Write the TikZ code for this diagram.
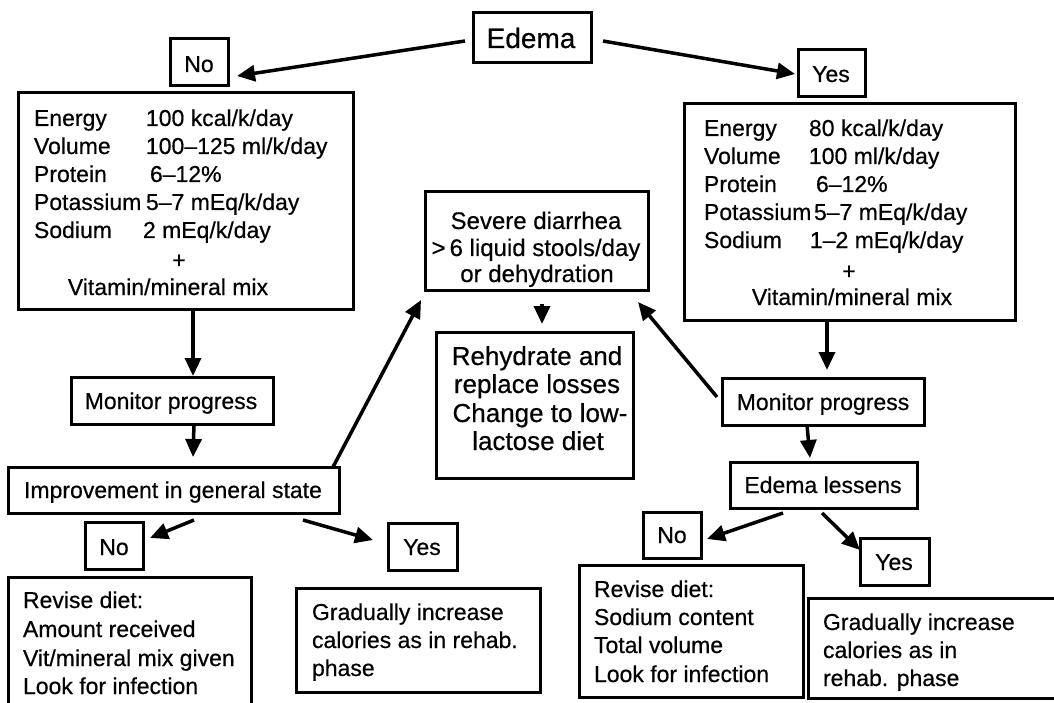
\documentclass[tikz,border=0pt]{standalone}
\usepackage{fontspec}
\setmainfont{Liberation Sans}[FakeBold=0.5]
\usetikzlibrary{arrows.meta,calc}
% box given by its corners: name, x1, y1, x2, y2
\newcommand\flowbox[5]{\node[box, minimum width={(#4-#2)*1pt}, minimum height={(#5-#3)*1pt}] (#1) at ({(#2+#4)/2},{(#3+#5)/2}) {};}
\newcommand\fsz[1]{\fontsize{#1}{28}\selectfont}
\begin{document}
\begin{tikzpicture}[x=1pt,y=-1pt,
  box/.style={draw, line width=3pt, inner sep=0pt, outer sep=0pt},
  txt/.style={inner sep=0pt, outer sep=0pt, font=\fsz{23}},
  lt/.style={txt, anchor=base west},
  ct/.style={txt, anchor=base},
  arr/.style={line width=3.5pt, -{Triangle[length=18pt,width=16pt]}}]
\useasboundingbox (0,0) rectangle (1054,703);
\clip (0,0) rectangle (1054,703);

% boxes
\flowbox{edema}{473}{13}{591}{63}
\flowbox{noA}{170}{39}{228}{86}
\flowbox{yesA}{798}{50}{865}{97}
\flowbox{dietA}{18}{93}{353}{309}
\flowbox{dietB}{684}{104}{1015}{320}
\flowbox{severe}{425}{192}{648}{290}
\flowbox{rehyd}{436}{332}{633}{478}
\flowbox{monA}{71}{377}{273}{424}
\flowbox{improve}{8}{467}{339}{513}
\flowbox{noB}{85}{522}{143}{569}
\flowbox{yesB}{388}{523}{457}{570}
\flowbox{reviseA}{8}{577}{251}{730}
\flowbox{gradA}{296}{588}{540}{692}
\flowbox{monB}{722}{378}{924}{425}
\flowbox{lessens}{730}{462}{917}{508}
\flowbox{noC}{643}{512}{701}{558}
\flowbox{yesC}{860}{538}{929}{585}
\flowbox{reviseB}{579}{565}{803}{697}
\flowbox{gradB}{808}{598}{1080}{698}

% texts
\node[ct, font=\fsz{28}] (edemaT) at (531,48) {Edema};
\node[ct] (noAT) at (199,72) {No};
\node[ct] (yesAT) at (831,82) {Yes};

\node[lt] (dA1) at (34,126) {\makebox[112pt][l]{Energy}100 kcal/k/day};
\node[lt] (dA2) at (34,154) {\makebox[112pt][l]{Volume}100–125 ml/k/day};
\node[lt] (dA3) at (34,182) {\makebox[116pt][l]{Protein}6–12\%};
\node[lt] (dA4) at (34,210) {\makebox[112pt][l]{Potassium}5–7 mEq/k/day};
\node[lt] (dA5) at (34,238) {\makebox[109pt][l]{Sodium}2 mEq/k/day};
\node[ct] (dA6) at (179,268) {+};
\node[ct] (dA7) at (168,295) {Vitamin/mineral mix};

\node[lt] (dB1) at (704,136) {\makebox[105pt][l]{Energy}80 kcal/k/day};
\node[lt] (dB2) at (704,164) {\makebox[105pt][l]{Volume}100 ml/k/day};
\node[lt] (dB3) at (704,192) {\makebox[112pt][l]{Protein}6–12\%};
\node[lt] (dB4) at (704,220) {\makebox[110pt][l]{Potassium}5–7 mEq/k/day};
\node[lt] (dB5) at (704,248) {\makebox[106pt][l]{Sodium}1–2 mEq/k/day};
\node[ct] (dB6) at (849,279) {+};
\node[ct] (dB7) at (852,305) {Vitamin/mineral mix};

\node[ct, font=\fsz{24}] (sv1) at (536,229) {Severe diarrhea};
\node[ct, font=\fsz{24}] (sv2) at (536,256) {>\,6 liquid stools/day};
\node[ct, font=\fsz{24}] (sv3) at (537,282) {or dehydration};

\node[ct, font=\fsz{26}] (rh1) at (537,365) {Rehydrate and};
\node[ct, font=\fsz{26}] (rh2) at (537,393) {replace losses};
\node[ct, font=\fsz{26}] (rh3) at (540,422) {Change to low-};
\node[ct, font=\fsz{26}] (rh4) at (538,450) {lactose diet};

\node[ct] (monAT) at (171,409) {Monitor progress};
\node[ct] (improveT) at (173,498) {Improvement in general state};
\node[ct] (noBT) at (114,555) {No};
\node[ct] (yesBT) at (422,555) {Yes};

\node[lt] (rA1) at (23,608) {Revise diet:};
\node[lt] (rA2) at (23,637) {Amount received};
\node[lt] (rA3) at (23,666) {Vit/mineral mix given};
\node[lt] (rA4) at (23,694) {Look for infection};

\node[lt] (gA1) at (312,620) {Gradually increase};
\node[lt] (gA2) at (312,648) {calories as in rehab.};
\node[lt] (gA3) at (312,676) {phase};

\node[ct] (monBT) at (823,410) {Monitor progress};
\node[ct] (lessensT) at (823,493) {Edema lessens};
\node[ct] (noCT) at (672,543) {No};
\node[ct] (yesCT) at (894,570) {Yes};

\node[lt] (rB1) at (594,597) {Revise diet:};
\node[lt] (rB2) at (594,625) {Sodium content};
\node[lt] (rB3) at (594,653) {Total volume};
\node[lt] (rB4) at (594,682) {Look for infection};

\node[lt] (gB1) at (823,630) {Gradually increase};
\node[lt] (gB2) at (823,658) {calories as in};
\node[lt] (gB3) at (823,686) {rehab. phase};

% connectors
\draw[arr] ($(edema.west)+(-8,3)$) -- ($(noA.east)+(9,13.5)$);
\draw[arr] ($(edema.east)+(12,3)$) -- ($(yesA.west)+(-3,0.5)$);
\draw[arr] ($(dietA.south)+(7.5,0)$) -- ($(monA.north)+(21,-1)$);
\draw[arr] ($(monA.south)+(22,0)$) -- ($(improve.north)+(19.5,-10)$);
\draw[arr] ($(improve.north east)+(-6,0)$) -- ($(severe.south west)+(-4,10)$);
\draw[arr] ($(monB.west)+(-5,-4.5)$) -- ($(severe.south east)+(-10,12)$);
\draw[arr] ($(severe.south)+(5.5,14)$) -- ($(rehyd.north)+(7.5,-8)$);
\draw[arr] ($(dietB.south)+(-22.5,0)$) -- ($(monB.north)+(4,-8)$);
\draw[arr] ($(monB.south)+(-16,0)$) -- ($(lessens.north)+(-13.5,-4)$);
\draw[arr] ($(improve.south)+(20.5,7)$) -- ($(noB.east)+(7,-7.5)$);
\draw[arr] ($(improve.south)+(129.5,7)$) -- ($(yesB.west)+(-15,-6.5)$);
\draw[arr] ($(lessens.south)+(-40.5,5)$) -- ($(noC.east)+(6,4)$);
\draw[arr] ($(lessens.south)+(-1.5,5)$) -- ($(yesC.north west)+(0,12)$);
\end{tikzpicture}
\end{document}
